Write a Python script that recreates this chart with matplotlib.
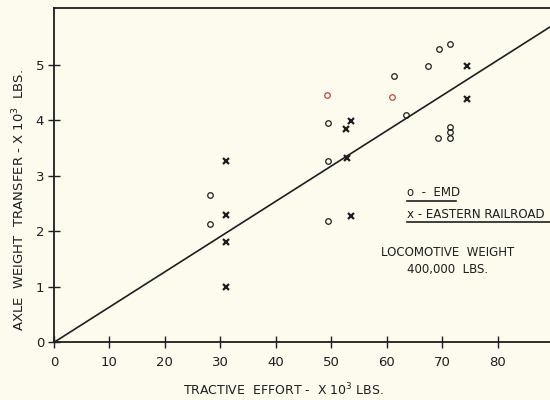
import matplotlib
matplotlib.use("Agg")
import matplotlib.pyplot as plt
import numpy as np

# EMD data (tractive effort x1e3 lbs, axle weight transfer x1e3 lbs)
emd_x = [28.1, 28.1, 49.4, 49.4, 49.4, 63.4, 61.3, 67.5, 69.4, 71.3, 69.2, 71.3, 71.3, 71.3]
emd_y = [2.65, 2.14, 3.96, 3.27, 2.19, 4.10, 4.80, 4.98, 5.28, 5.38, 3.69, 3.88, 3.79, 3.69]
# EMD points that appear reddish in the scan
emd_red_x = [49.2, 61.0]
emd_red_y = [4.46, 4.43]
# Eastern Railroad data
er_x = [31.1, 31.1, 31.1, 31.1, 52.6, 53.5, 52.9, 53.5, 74.4, 74.4]
er_y = [3.27, 2.29, 1.81, 0.99, 3.84, 3.99, 3.33, 2.28, 4.98, 4.39]
# Trend line
line_x = [0, 95]
line_slope = 0.0636
x_ticks = [0, 10, 20, 30, 40, 50, 60, 70, 80]
y_ticks = [0, 1, 2, 3, 4, 5]

bg = "#fcfbee"
ink = "#1e1e1e"
fig = plt.figure(figsize=(5.5, 4.0), dpi=100, facecolor=bg)
ax = fig.add_axes([0.098, 0.144, 0.902, 0.835])
ax.set_facecolor(bg)

ax.plot(line_x, [line_slope * v for v in line_x], color=ink, lw=1.2, zorder=2)
ax.plot(emd_x, emd_y, linestyle="none", marker="o", ms=4, mfc="none",
        mec=ink, mew=0.9, zorder=3)
ax.plot(emd_red_x, emd_red_y, linestyle="none", marker="o", ms=4, mfc="none",
        mec="#b84848", mew=0.9, zorder=3)
ax.plot(er_x, er_y, linestyle="none", marker="x", ms=5, mec=ink, mew=1.6, zorder=3)

ax.set_xlim(0, 89.4)
ax.set_ylim(0, 6.02)
ax.set_xticks(x_ticks)
ax.set_yticks(y_ticks)
ax.tick_params(direction="inout", length=8, width=1.0, colors=ink,
               labelsize=9.5)
ax.tick_params(axis="x", pad=6)
ax.tick_params(axis="y", pad=3)
for s in ["left", "bottom", "top"]:
    ax.spines[s].set_linewidth(1.3)
    ax.spines[s].set_color(ink)
ax.spines["right"].set_visible(False)

ax.set_xlabel("TRACTIVE  EFFORT -  X 10$^3$ LBS.", fontsize=9, color=ink)
ax.set_ylabel("AXLE  WEIGHT  TRANSFER - X 10$^3$  LBS.", fontsize=9.5, color=ink)
ax.xaxis.set_label_coords(0.462, -0.118)
ax.yaxis.set_label_coords(-0.054, 0.426)

fig.text(407 / 550, 1 - 193 / 400, "o  -  EMD", fontsize=8.5, color=ink,
         va="center", ha="left")
fig.add_artist(plt.Line2D([407 / 550, 456 / 550], [1 - 201 / 400, 1 - 201 / 400],
                          color=ink, lw=1.2))
fig.text(407 / 550, 1 - 214 / 400, "x - EASTERN RAILROAD", fontsize=8.6,
         color=ink, va="center", ha="left")
fig.add_artist(plt.Line2D([407 / 550, 550 / 550], [1 - 222 / 400, 1 - 222 / 400],
                          color=ink, lw=1.2))
fig.text(448 / 550, 1 - 253 / 400, "LOCOMOTIVE  WEIGHT", fontsize=8.5,
         color=ink, va="center", ha="center")
fig.text(448 / 550, 1 - 270 / 400, "400,000  LBS.", fontsize=8.5,
         color=ink, va="center", ha="center")

fig.savefig("out.png", dpi=100, facecolor=bg)
